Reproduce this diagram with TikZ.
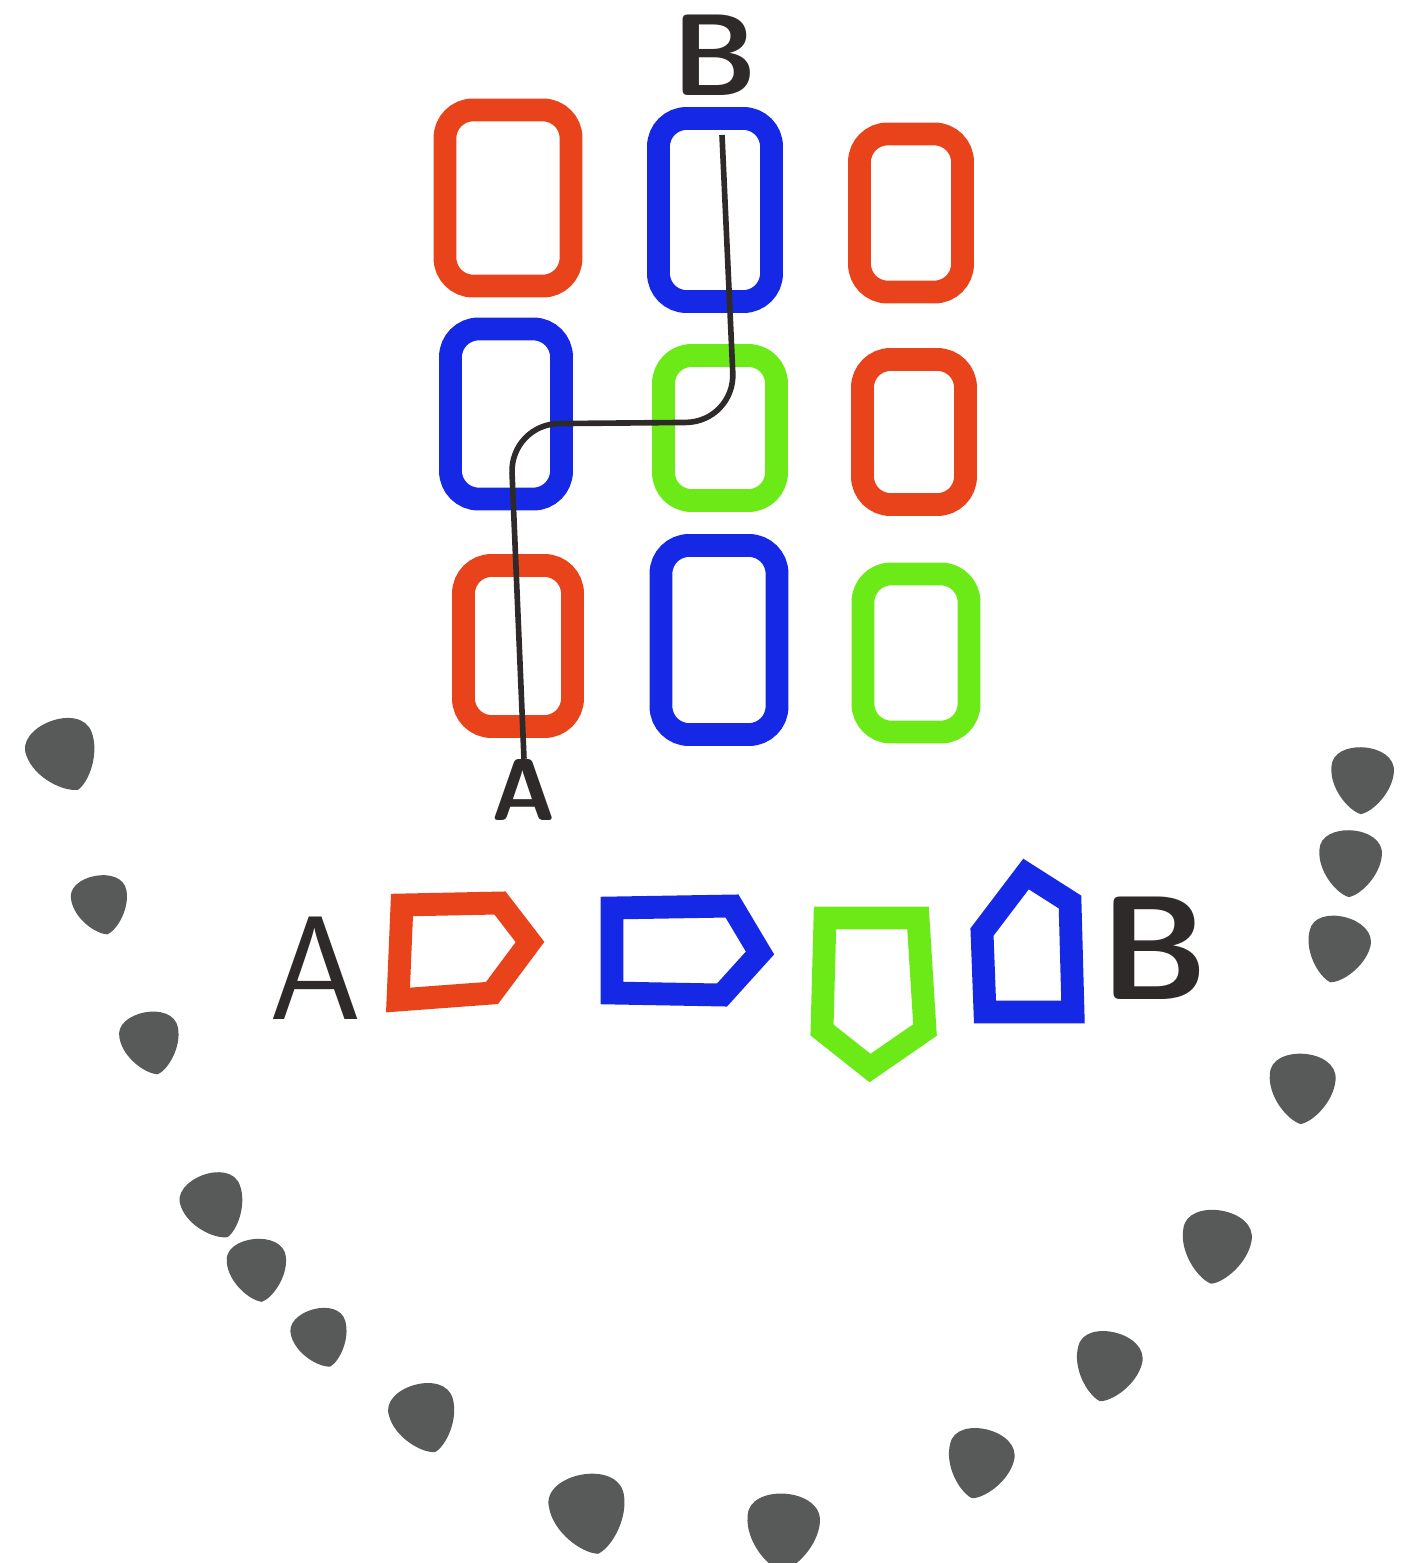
\documentclass[tikz,border=0pt]{standalone}
\usetikzlibrary{positioning,calc}

\definecolor{tilered}{HTML}{E8431A}
\definecolor{tileblue}{HTML}{1428E6}
\definecolor{tilegreen}{HTML}{6CEA18}
\definecolor{stonegray}{HTML}{575A58}
\definecolor{ink}{HTML}{2E2A2A}

\begin{document}
\begin{tikzpicture}[
  x=0.01cm, y=-0.01cm,
  tile/.style={draw,rounded corners=8pt,line width=6.5pt,inner sep=0pt},
  piece/.style={line width=6.5pt,line join=miter},
  lbl/.style={text=ink,font=\sffamily\bfseries,inner sep=0pt},
  route/.style={draw=ink,line width=1.6pt,rounded corners=14pt},
  stone/.pic={
    \fill[stonegray] (-33,-8) .. controls (-35,-38) and (33,-40) .. (33,-8)
      .. controls (33,14) and (14,36) .. (2,39)
      .. controls (-12,36) and (-33,14) .. (-33,-8) -- cycle;
  },
]
  \useasboundingbox[fill=white] (0,0) rectangle (1416,1563);

  % the grid of tiles
  \node[tile,draw=tilered,  minimum width=1.26cm,minimum height=1.76cm] (t11) at (508,198) {};
  \node[tile,draw=tileblue, minimum width=1.13cm,minimum height=1.83cm] (t12) at (715,210) {};
  \node[tile,draw=tilered,  minimum width=1.03cm,minimum height=1.58cm] (t13) at (911,213) {};
  \node[tile,draw=tileblue, minimum width=1.11cm,minimum height=1.70cm] (t21) at (506,414) {};
  \node[tile,draw=tilegreen,minimum width=1.13cm,minimum height=1.45cm] (t22) at (720,428) {};
  \node[tile,draw=tilered,  minimum width=1.03cm,minimum height=1.45cm] (t23) at (914,432) {};
  \node[tile,draw=tilered,  minimum width=1.09cm,minimum height=1.61cm] (t31) at (518,646) {};
  \node[tile,draw=tileblue, minimum width=1.16cm,minimum height=1.89cm] (t32) at (719,640) {};
  \node[tile,draw=tilegreen,minimum width=1.06cm,minimum height=1.58cm] (t33) at (916,653) {};

  \node[lbl,font=\sffamily\bfseries\fontsize{33}{33}\selectfont] (topB) at (715,55) {B};
  \node[lbl,font=\sffamily\bfseries\fontsize{25}{25}\selectfont] (topA) at (524,790) {A};

  \coordinate (start) at (722,135);
  \coordinate (turn1) at (735,422);
  \coordinate (turn2) at (510,424);
  \draw[route] (start) -- (turn1) -- (turn2) -- (topA.north);

  % the row of pieces
  \node[lbl,font=\sffamily\fontsize{42}{42}\selectfont] (lowA) at (316,968) {A};
  \draw[piece,draw=tilered]   (402,905) -- (500,903) -- (530,942) -- (492,993) -- (398,1000) -- cycle;
  \draw[piece,draw=tileblue]  (612,908) -- (732,906) -- (760,953) -- (722,995) -- (612,993) -- cycle;
  \draw[piece,draw=tilegreen] (825,918) -- (918,918) -- (925,1030) -- (870,1068) -- (822,1030) -- cycle;
  \draw[piece,draw=tileblue]  (982,932) -- (1026,874) -- (1070,902) -- (1073,1012) -- (985,1012) -- cycle;
  \node[lbl,font=\sffamily\bfseries\fontsize{42}{42}\selectfont] (lowB) at (1155,948) {B};

  % stones round the bottom
  \foreach \x/\y/\r/\s in {62/752/20/1.05, 100/902/10/0.85, 150/1040/10/0.9,
      213/1203/20/0.95, 257/1267/5/0.9, 320/1335/15/0.85, 423/1415/15/1.0,
      588/1510/10/1.15, 783/1528/-5/1.1, 980/1460/-15/1.0, 1108/1363/-15/1.0,
      1216/1243/-10/1.05, 1302/1085/-5/1.0, 1338/946/-15/0.95, 1350/860/-5/0.95,
      1362/777/-5/0.95}
    \pic[rotate=\r,scale=\s] at (\x,\y) {stone};
\end{tikzpicture}
\end{document}
